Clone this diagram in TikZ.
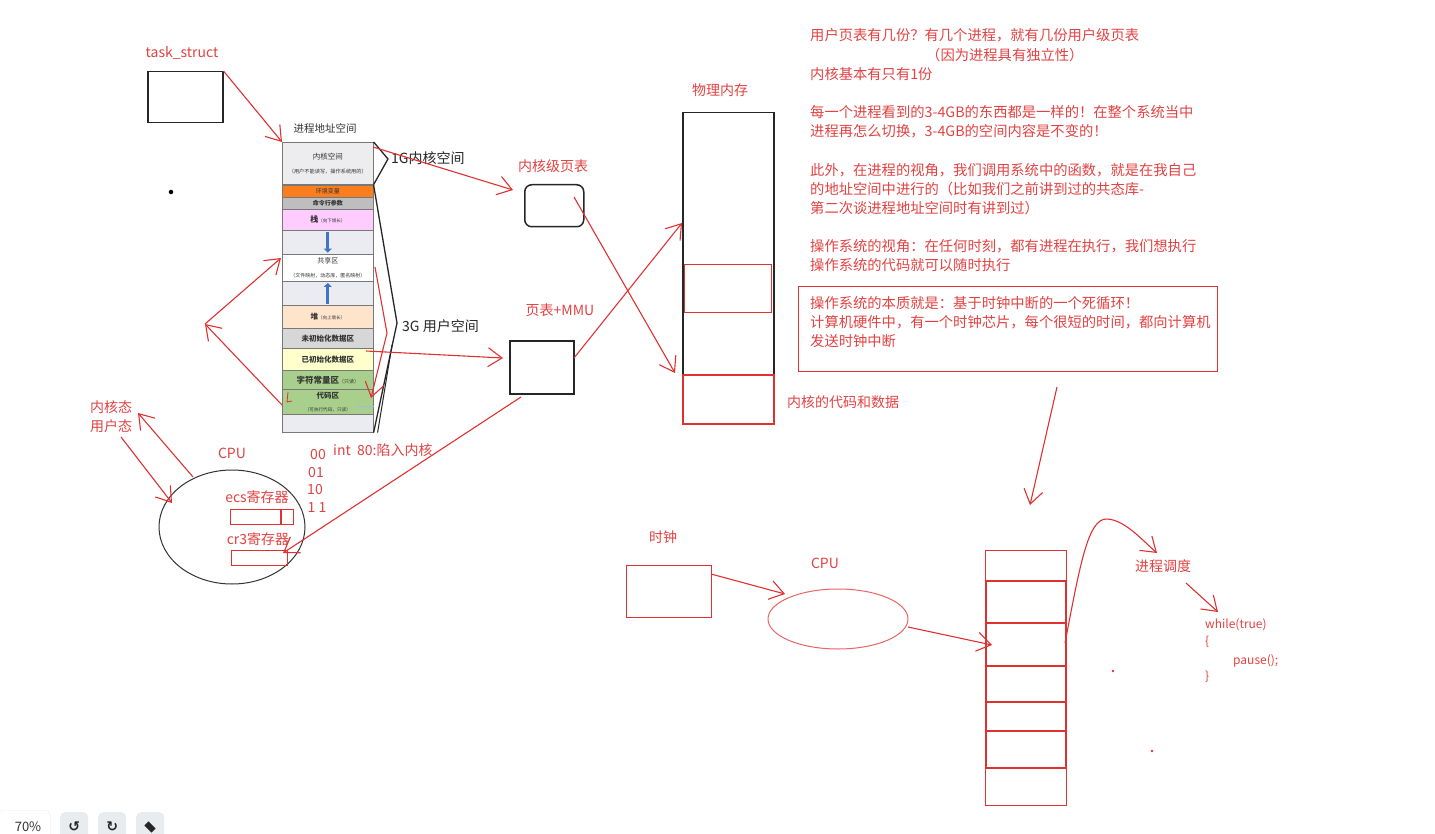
\documentclass[tikz,border=0pt]{standalone}
\usepackage{fontspec}
\setmainfont{Noto Sans CJK SC}
\newfontfamily\dejavu{DejaVu Sans}
\usetikzlibrary{arrows.meta,shapes.geometric}
\definecolor{exred}{RGB}{224,49,49}
\definecolor{txred}{RGB}{226,66,66}
\definecolor{segline}{RGB}{120,120,120}
\definecolor{kgray}{RGB}{237,237,240}
\definecolor{envor}{RGB}{250,125,30}
\definecolor{cmdgray}{RGB}{190,190,190}
\definecolor{stpink}{RGB}{255,204,255}
\definecolor{gapc}{RGB}{234,236,242}
\definecolor{heapc}{RGB}{255,228,204}
\definecolor{bssc}{RGB}{215,215,215}
\definecolor{datac}{RGB}{255,255,204}
\definecolor{greenc}{RGB}{168,208,140}
\definecolor{blarr}{RGB}{68,114,196}
\definecolor{tbgray}{RGB}{233,236,239}
\begin{document}
\begin{tikzpicture}[x=1pt,y=-1pt,
  rline/.style={draw=exred, line width=1.1pt},
  rarrow/.style={rline, -{Straight Barb[length=14pt,width=19pt]}},
  rtext/.style={text=txred, inner sep=0pt, font=\fontsize{14}{16}\selectfont},
  btext/.style={text=black!85, inner sep=0pt, font=\fontsize{14}{16}\selectfont},
  seg/.style={draw=segline, line width=0.6pt, minimum width=91pt, inner sep=0pt, anchor=north west, align=center, text=black!80},
  blackbox/.style={draw=black!85, line width=1.5pt, inner sep=0pt, anchor=north west},
  redbox/.style={draw=exred, line width=1.1pt, inner sep=0pt, anchor=north west},
  bluearr/.style={draw=blarr, line width=3pt, -{Triangle[length=4pt,width=8pt]}, shorten <=2pt, shorten >=2pt}
]
\useasboundingbox (0,0) rectangle (1435,834);
\fill[white] (0,0) rectangle (1435,834);

% ---------- task_struct ----------
\node[rtext] (tsl) at (182,53) {task\_struct};
\node[blackbox, minimum width=75pt, minimum height=51pt] (ts) at (147,71) {};
\node[circle, fill=black, inner sep=1.6pt] (dot) at (171,192) {};

% ---------- process address space ----------
\node[text=black!80, inner sep=0pt, font=\fontsize{10.5}{12}\selectfont] (vasl) at (325,128) {进程地址空间};
\node[seg, fill=kgray, minimum height=42pt] (kern) at (282,142)
  {{\fontsize{7.5}{8}\selectfont 内核空间}\\[2pt]{\fontsize{5.2}{6}\selectfont （用户不能读写，操作系统用的）}};
\node[seg, fill=envor, minimum height=12pt] (env) at (282,185) {{\fontsize{6}{6}\selectfont 环境变量}};
\node[seg, fill=cmdgray, minimum height=12pt] (cmd) at (282,197) {{\fontsize{6}{6}\selectfont\bfseries 命令行参数}};
\node[seg, fill=stpink, minimum height=21pt] (stk) at (282,209) {{\fontsize{8}{8}\selectfont\bfseries 栈}{\fontsize{4.5}{5}\selectfont （向下增长）}};
\node[seg, fill=gapc, minimum height=24pt] (gap1) at (282,230) {};
\node[seg, fill=white, minimum height=27pt] (shr) at (282,254)
  {{\fontsize{7}{7}\selectfont 共享区}\\[2pt]{\fontsize{5}{5}\selectfont （文件映射，动态库，匿名映射）}};
\node[seg, fill=gapc, minimum height=24pt] (gap2) at (282,281) {};
\node[seg, fill=heapc, minimum height=23pt] (heap) at (282,305) {{\fontsize{7.5}{8}\selectfont\bfseries 堆}{\fontsize{4.5}{5}\selectfont （向上增长）}};
\node[seg, fill=bssc, minimum height=20pt] (bss) at (282,328) {\fontsize{7.5}{8}\selectfont\bfseries 未初始化数据区};
\node[seg, fill=datac, minimum height=22pt] (data) at (282,348) {\fontsize{7.5}{8}\selectfont\bfseries 已初始化数据区};
\node[seg, fill=greenc, minimum height=19pt] (rod) at (282,370) {{\fontsize{8.5}{9}\selectfont\bfseries 字符常量区}{\fontsize{5}{5}\selectfont （只读）}};
\node[seg, fill=greenc, minimum height=25pt] (code) at (282,389)
  {{\fontsize{7.5}{8}\selectfont\bfseries 代码区}\\[1pt]{\fontsize{4.6}{5}\selectfont （可执行代码，只读）}};
\node[seg, fill=gapc, minimum height=18pt] (bot) at (282,414) {};
\draw[bluearr] (gap1.north) -- (gap1.south);
\draw[bluearr] (gap2.south) -- (gap2.north);
\draw[draw=blarr!50, line width=0.5pt] (358,406) -- (code.east |- 0,406);

% braces
\coordinate (b1) at (388,159);
\draw[black!85, line width=1.3pt] (kern.north east) -- (b1) -- (kern.south east);
\node[btext, anchor=west] (g1) at (391,158) {1G内核空间};
\coordinate (b3) at (397,323);
\coordinate (b3b) at (392,345);
\draw[black!85, line width=1.3pt] (env.north east) -- (b3) -- (bot.south east);
\draw[black!85, line width=1pt] (b3b) -- ([xshift=4pt]bot.south east);
\node[btext, anchor=west] (g3) at (402,326) {3G 用户空间};

% red arrow inside column
\coordinate (s1) at (375,267);
\coordinate (s2) at (387,333);
\coordinate (s3) at (371,398);
\draw[rarrow] (s1) -- (s2) -- (s3);

% task_struct -> address space
\draw[rarrow] (ts.north east) -- (kern.north west);

% left V arrows
\coordinate (v) at (205,324);
\coordinate (c1) at (282,405);
\coordinate (sh1) at (281,258);
\draw[rarrow] (c1) -- (v);
\draw[rarrow] (v) -- (sh1);
\draw[exred, line width=0.8pt] (288,392) -- (287,402) -- (292,401);

% ---------- page tables ----------
\node[rtext] (kptl) at (553,166) {内核级页表};
\node[draw=black!85, line width=1.5pt, rounded corners=7pt, minimum width=59pt, minimum height=42pt, inner sep=0pt, anchor=north west] (kpt) at (524,184) {};
\coordinate (k1) at (373,147);
\coordinate (kptin) at (513,190);
\draw[rarrow] (k1) -- (kptin);

\node[rtext] (ptl) at (560,310) {页表+MMU};
\node[blackbox, minimum width=64pt, minimum height=53pt] (pt) at (509,340) {};
\coordinate (d1) at (366,351);
\coordinate (ptin) at (503,358);
\draw[rarrow] (d1) -- (ptin);

% ---------- physical memory ----------
\node[rtext] (physl) at (720,90) {物理内存};
\node[blackbox, minimum width=91pt, minimum height=311pt] (phys) at (682,112) {};
\node[redbox, minimum width=87pt, minimum height=48pt] (pu) at (684,264) {};
\node[draw=exred, line width=1.6pt, inner sep=0pt, anchor=north west, minimum width=91pt, minimum height=49pt] (pk) at (682,374) {};
\node[rtext] (pkl) at (843,402) {内核的代码和数据};

\coordinate (kpt1) at (574,197);
\coordinate (pkin) at (675,373);
\draw[rarrow] (kpt1) -- (pkin);
\coordinate (pt1) at (574,358);
\coordinate (physin) at (682,223);
\draw[rarrow] (pt1) -- (physin);

% ---------- CPU (left) ----------
\node[rtext] (kst) at (111,407) {内核态};
\node[rtext] (ust) at (111,426) {用户态};
\node[draw=black!80, line width=1pt, ellipse, minimum width=146pt, minimum height=114pt, inner sep=0pt] (cpu) at (232,527) {};
\node[rtext] (cpul) at (232,453) {CPU};
\coordinate (cpu1) at (193,477);
\coordinate (kst1) at (138,413);
\draw[rarrow] (cpu1) -- (kst1);
\coordinate (ust1) at (121,437);
\coordinate (cpu2) at (172,503);
\draw[rarrow] (ust1) -- (cpu2);

\node[rtext] (ecsl) at (257,497) {ecs寄存器};
\node[redbox, minimum width=63pt, minimum height=15pt] (ecs) at (230,509) {};
\draw[exred, line width=1.1pt] (281,509) -- (281,524);
\node[rtext] (cr3l) at (258,539) {cr3寄存器};
\node[redbox, minimum width=56pt, minimum height=15pt] (cr3) at (231,550) {};
\coordinate (pt2) at (521,397);
\coordinate (cr3in) at (283,553);
\draw[rarrow] (pt2) -- (cr3in);

\node[rtext] (n00) at (318,455) {00};
\node[rtext] (n01) at (316,473) {01};
\node[rtext] (n10) at (315,490) {10};
\node[rtext] (n11) at (317,508) {1 1};
\node[rtext, anchor=west] (int80) at (333,450) {int~ 80:陷入内核};

% ---------- right text block ----------
\foreach \yy/\tt in {35/{用户页表有几份？有几个进程，就有几份用户级页表},
                     74/{内核基本有只有1份},
                     112/{每一个进程看到的3-4GB的东西都是一样的！在整个系统当中},
                     131/{进程再怎么切换，3-4GB的空间内容是不变的！},
                     170/{此外，在进程的视角，我们调用系统中的函数，就是在我自己},
                     189/{的地址空间中进行的（比如我们之前讲到过的共态库-},
                     208/{第二次谈进程地址空间时有讲到过）},
                     246/{操作系统的视角：在任何时刻，都有进程在执行，我们想执行},
                     265/{操作系统的代码就可以随时执行},
                     303/{操作系统的本质就是：基于时钟中断的一个死循环！},
                     322/{计算机硬件中，有一个时钟芯片，每个很短的时间，都向计算机},
                     341/{发送时钟中断}}
  \node[rtext, anchor=west, font=\fontsize{14.3}{16}\selectfont] (t\yy) at (810,\yy) {\tt};
\node[rtext, anchor=west, font=\fontsize{14.3}{16}\selectfont] (t55) at (926,55) {（因为进程具有独立性）};
\node[redbox, minimum width=419pt, minimum height=85pt] (essbox) at (798,286) {};
\coordinate (ess1) at (1057,387);
\coordinate (stkin) at (1030,505);
\draw[rarrow] (ess1) -- (stkin);

% ---------- clock / CPU / stack ----------
\node[rtext] (clkl) at (663,537) {时钟};
\node[redbox, minimum width=85pt, minimum height=52pt] (clk) at (626,565) {};
\node[rtext] (cpu2l) at (825,563) {CPU};
\node[draw=exred!75, line width=1pt, ellipse, minimum width=140pt, minimum height=60pt, inner sep=0pt] (cpu2e) at (838,619) {};
\coordinate (clk1) at (711,574);
\coordinate (cpuin) at (785,594);
\draw[rarrow] (clk1) -- (cpuin);
\coordinate (cpuout) at (908,627);
\coordinate (rstin) at (992,645);
\draw[rarrow] (cpuout) -- (rstin);

\node[redbox, minimum width=81pt, minimum height=255pt] (rs) at (985,550) {};
\foreach \yy in {581,623,666,702,731,768}
  \draw[exred, line width=1.1pt] (rs.west |- 0,\yy) -- (rs.east |- 0,\yy);
\draw[exred, line width=1.8pt] (986,581) rectangle (1066,768);

\coordinate (rs1) at (1065,643);
\coordinate (schin) at (1157,553);
\draw[rarrow] (rs1) .. controls (1080,565) and (1088,518) .. (1107,519) .. controls (1125,520) and (1142,540) .. (schin);
\node[rtext] (sch) at (1163,566) {进程调度};
\coordinate (sch1) at (1186,583);
\coordinate (whin) at (1218,612);
\draw[rarrow] (sch1) -- (whin);
\node[rtext, anchor=west, font=\fontsize{12}{14}\selectfont] (w1) at (1205,625) {while(true)};
\node[rtext, anchor=west, font=\fontsize{12}{14}\selectfont] (w2) at (1205,642) {\{};
\node[rtext, anchor=west, font=\fontsize{12}{14}\selectfont] (w3) at (1233,661) {pause();};
\node[rtext, anchor=west, font=\fontsize{12}{14}\selectfont] (w4) at (1205,677) {\}};
\node[circle, fill=exred, inner sep=1pt] (d2) at (1113,671) {};
\node[circle, fill=exred, inner sep=1pt] (d3) at (1152,751) {};

% ---------- toolbar ----------
\node[draw=black!8, fill=white, rounded corners=5pt, minimum width=52pt, minimum height=30pt, anchor=north west] (zoombox) at (-2,810) {};
\node[text=black!80, font=\fontsize{13}{15}\selectfont, inner sep=0pt] (zoomt) at (28,827) {70\%};
\node[fill=tbgray, rounded corners=5pt, minimum width=28pt, minimum height=28pt, anchor=north west, font=\dejavu\fontsize{14}{14}\selectfont\bfseries, text=black!85] (undo) at (60,812) {↺};
\node[fill=tbgray, rounded corners=5pt, minimum width=28pt, minimum height=28pt, anchor=north west, font=\dejavu\fontsize{14}{14}\selectfont\bfseries, text=black!85] (redo) at (98,812) {↻};
\node[fill=tbgray, rounded corners=5pt, minimum width=28pt, minimum height=28pt, anchor=north west] (erase) at (136,812) {};
\fill[black!85, rotate around={-45:(150,827)}] (145,824) rectangle (155,830);
\end{tikzpicture}
\end{document}
